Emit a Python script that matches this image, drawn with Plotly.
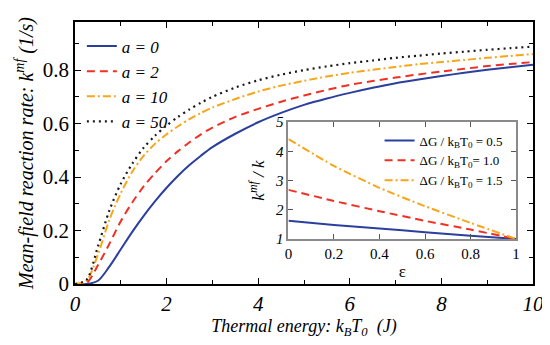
import plotly.graph_objects as go

# ---------------- data ----------------
kT = [0, 0.25, 0.5, 0.75, 1.0, 1.25, 1.5, 1.75, 2, 2.25, 2.5, 2.75, 3, 3.5, 4, 4.5, 5,
      5.5, 6, 6.5, 7, 7.5, 8, 8.5, 9, 9.5, 10]
rate_a0 = [0, 0, 0.012, 0.065, 0.13, 0.195, 0.255, 0.31, 0.36, 0.405, 0.445, 0.48, 0.512, 0.562, 0.605, 0.64, 0.67,
           0.694, 0.715, 0.734, 0.751, 0.765, 0.778, 0.79, 0.801, 0.811, 0.82]
rate_a2 = [0, 0.003, 0.07, 0.15, 0.235, 0.305, 0.365, 0.415, 0.46, 0.497, 0.53, 0.56, 0.585, 0.625, 0.655, 0.682, 0.705,
           0.726, 0.745, 0.759, 0.772, 0.784, 0.795, 0.805, 0.815, 0.823, 0.83]
rate_a10 = [0, 0.012, 0.11, 0.24, 0.34, 0.42, 0.48, 0.525, 0.56, 0.59, 0.617, 0.64, 0.66, 0.692, 0.72, 0.742, 0.76,
            0.776, 0.79, 0.801, 0.812, 0.822, 0.83, 0.838, 0.846, 0.853, 0.86]
rate_a50 = [0, 0.015, 0.14, 0.275, 0.375, 0.45, 0.51, 0.555, 0.593, 0.625, 0.653, 0.678, 0.70, 0.735, 0.762, 0.783, 0.80,
            0.814, 0.826, 0.836, 0.846, 0.854, 0.862, 0.869, 0.876, 0.882, 0.888]
main_labels = ["a = 0", "a = 2", "a = 10", "a = 50"]
x_ticks = [0, 2, 4, 6, 8, 10]
y_ticks = [0, 0.2, 0.4, 0.6, 0.8]

eps = [0, 0.2, 0.4, 0.6, 0.8, 1.0]
ratio_05 = [1.62, 1.48, 1.36, 1.23, 1.11, 1.0]
ratio_10 = [2.68, 2.30, 1.95, 1.62, 1.32, 1.0]
ratio_15 = [4.42, 3.50, 2.75, 2.12, 1.55, 1.0]
inset_labels = ["ΔG / k<sub>B</sub>T<sub>0</sub> = 0.5",
                "ΔG / k<sub>B</sub>T<sub>0</sub>= 1.0",
                "ΔG / k<sub>B</sub>T<sub>0</sub> = 1.5"]
eps_ticks = [0, 0.2, 0.4, 0.6, 0.8, 1]
ratio_ticks = [1, 2, 3, 4, 5]

# ---------------- styles ----------------
BLUE = "#2b3f9e"
RED = "#ee3124"
ORANGE = "#f9a51a"
BLACK = "#1a1a1a"
SERIF = "Liberation Serif, Times New Roman, serif"

styles = [
    dict(color=BLUE, width=2, dash="solid"),
    dict(color=RED, width=2, dash="8px,5px"),
    dict(color=ORANGE, width=2, dash="8px,3px,2px,3px"),
    dict(color=BLACK, width=2.2, dash="2px,4px"),
]

fig = go.Figure()
for ys, lab, st in zip([rate_a0, rate_a2, rate_a10, rate_a50], main_labels, styles):
    fig.add_trace(go.Scatter(x=kT, y=ys, name="<i>" + lab + "</i>", mode="lines",
                             line=dict(shape="spline", smoothing=0.8, **st),
                             xaxis="x", yaxis="y", legend="legend"))

for ys, lab, st in zip([ratio_05, ratio_10, ratio_15], inset_labels, styles[:3]):
    fig.add_trace(go.Scatter(x=eps, y=ys, name=lab, mode="lines",
                             line=dict(shape="spline", smoothing=0.6, **st),
                             xaxis="x2", yaxis="y2", legend="legend2"))

main_ax = dict(showline=True, linecolor="black", linewidth=1.5, mirror="ticks",
               ticks="inside", ticklen=6, tickwidth=1.3, tickcolor="black",
               showgrid=False, zeroline=False, automargin=False)

# the page body adds an 8px offset, so the figure is sized 542x337 to fill 550x345
fig.update_layout(
    template="none",
    width=542, height=337,
    margin=dict(l=67, r=17, t=14, b=61),
    paper_bgcolor="white", plot_bgcolor="white",
    font=dict(family=SERIF, color="black"),
    xaxis=dict(range=[0, 10],
               tickvals=x_ticks, ticktext=["<i>%g</i>" % v for v in x_ticks],
               minor=dict(dtick=1, ticks="inside", ticklen=4, tickcolor="black", tickwidth=1.2),
               tickfont=dict(family=SERIF, size=21),
               title=dict(text="<i>Thermal energy: k<sub>B</sub>T<sub>0</sub>  (J)</i>",
                          font=dict(family=SERIF, size=18), standoff=2),
               domain=[0, 1], anchor="y", **main_ax),
    yaxis=dict(range=[0, 0.98],
               tickvals=y_ticks, ticktext=["%g" % v for v in y_ticks],
               minor=dict(dtick=0.1, ticks="inside", ticklen=4, tickcolor="black", tickwidth=1.2),
               tickfont=dict(family=SERIF, size=21),
               title=dict(text="<i>Mean-field reaction rate: k<sup>mf</sup> (1/s)</i>",
                          font=dict(family=SERIF, size=20), standoff=4),
               domain=[0, 1], anchor="x", **main_ax),
    xaxis2=dict(range=[0, 1], domain=[0.466, 0.963], anchor="y2",
                showline=True, linecolor="#8a8a8a", linewidth=2, mirror="ticks",
                ticks="inside", ticklen=5, tickcolor="#555555", tickwidth=1.2,
                showgrid=False, zeroline=False, automargin=False,
                tickvals=eps_ticks, ticktext=["%g" % v for v in eps_ticks],
                tickfont=dict(family=SERIF, size=15),
                title=dict(text="ε", font=dict(family=SERIF, size=17), standoff=4)),
    yaxis2=dict(range=[1, 5], domain=[0.172, 0.618], anchor="x2",
                showline=True, linecolor="#8a8a8a", linewidth=2, mirror="ticks",
                ticks="inside", ticklen=5, tickcolor="#555555", tickwidth=1.2,
                showgrid=False, zeroline=False, automargin=False,
                tickvals=ratio_ticks, ticktext=["<i>%g</i>" % v for v in ratio_ticks],
                tickfont=dict(family=SERIF, size=15),
                title=dict(text="<i>k<sup>mf</sup> / k</i>", font=dict(family=SERIF, size=17),
                           standoff=6)),
    legend=dict(x=0.015, y=0.975, xanchor="left", yanchor="top",
                bgcolor="rgba(0,0,0,0)", borderwidth=0, itemwidth=30,
                tracegroupgap=0,
                font=dict(family=SERIF, size=17)),
    legend2=dict(x=0.665, y=0.605, xanchor="left", yanchor="top",
                 bgcolor="rgba(0,0,0,0)", borderwidth=0, itemwidth=30,
                 tracegroupgap=0,
                 font=dict(family=SERIF, size=13)),
    showlegend=True,
)

fig.write_html("out.html")
